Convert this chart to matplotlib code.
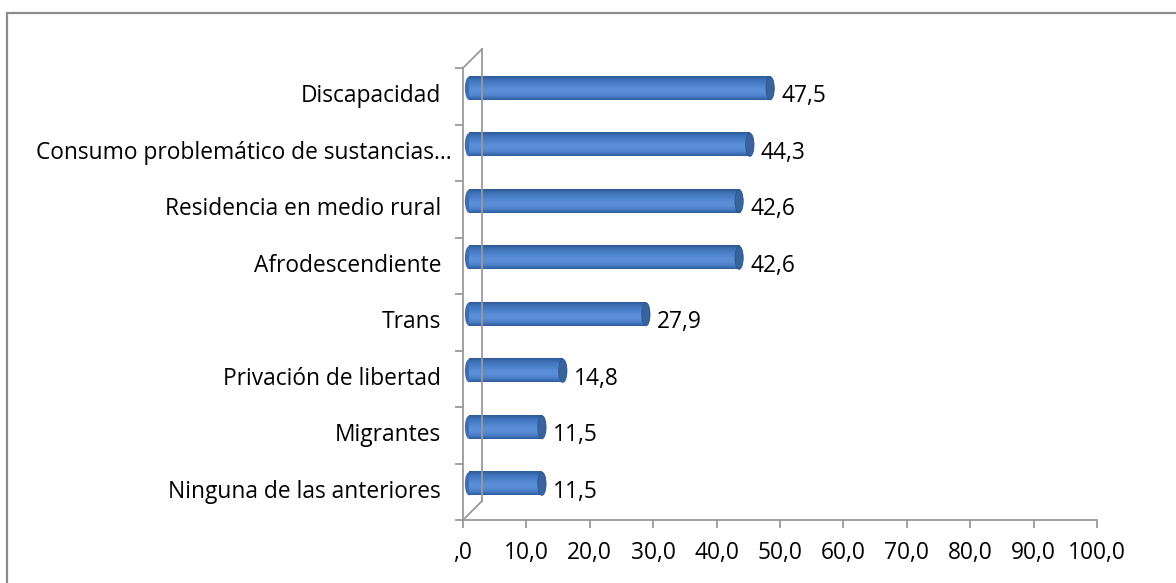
import matplotlib
matplotlib.use("Agg")
import matplotlib.pyplot as plt
import numpy as np
from matplotlib.transforms import ScaledTranslation
from matplotlib.patches import Ellipse, Rectangle
from matplotlib.lines import Line2D
from matplotlib.colors import LinearSegmentedColormap

categories = ["Discapacidad", "Consumo problemático de sustancias...",
              "Residencia en medio rural", "Afrodescendiente", "Trans",
              "Privación de libertad", "Migrantes", "Ninguna de las anteriores"]
values = [47.5, 44.3, 42.6, 42.6, 27.9, 14.8, 11.5, 11.5]
value_labels = ["47,5", "44,3", "42,6", "42,6", "27,9", "14,8", "11,5", "11,5"]
xticks = [0, 10, 20, 30, 40, 50, 60, 70, 80, 90, 100]
xtick_labels = [",0", "10,0", "20,0", "30,0", "40,0", "50,0", "60,0", "70,0", "80,0", "90,0", "100,0"]

plt.rcParams['font.family'] = ['Open Sans', 'DejaVu Sans']
FS = 16.4
W, H = 1176, 583
fig = plt.figure(figsize=(W / 100, H / 100), dpi=100)

# outer chart border
fig.patches.append(Rectangle((7 / W, -0.05), 1.2, (583 - 13) / H + 0.05,
                             transform=fig.transFigure, fill=False,
                             edgecolor="#8c8c8c", linewidth=1.6))

ax = fig.add_axes([463 / W, (583 - 520) / H, 634 / W, 452 / H])
n = len(categories)
ypos = np.arange(n)[::-1]
ax.set_xlim(0, 100)
ax.set_ylim(-0.5, n - 0.5)
for s in ["top", "right"]:
    ax.spines[s].set_visible(False)
axis_col = "#9a9a9a"
for s in ["left", "bottom"]:
    ax.spines[s].set_color(axis_col)
    ax.spines[s].set_linewidth(1.3)

ax.set_xticks(xticks)
ax.set_xticklabels(xtick_labels, fontsize=FS)
ax.set_yticks(np.arange(-0.5, n, 1.0))
ax.set_yticklabels([])
ax.tick_params(axis="x", length=6, width=1.3, color=axis_col, pad=9)
ax.tick_params(axis="y", length=6, width=1.3, color=axis_col)

# category labels
for y, c in zip(ypos, categories):
    gap = 11 if c.endswith("...") else 22
    ax.text(0, y, c, transform=ax.get_yaxis_transform() +
            ScaledTranslation(-gap / 100, 0, fig.dpi_scale_trans),
            ha="right", va="center", fontsize=FS)

# 3D back wall lines
off = ScaledTranslation(19 / 100, 19 / 100, fig.dpi_scale_trans)
ta = ax.transAxes
tb = ax.transAxes + off
for (p0, t0), (p1, t1) in [(((0, 1), ta), ((0, 1), tb)),
                           (((0, 0), ta), ((0, 0), tb))]:
    a = t0.transform(p0); b = t1.transform(p1)
    fig.lines.append(Line2D([a[0] / W, b[0] / W], [a[1] / H, b[1] / H],
                            transform=fig.transFigure, color=axis_col, lw=1.3))
a = tb.transform((0, 1)); b = tb.transform((0, 0))
fig.lines.append(Line2D([a[0] / W, b[0] / W], [a[1] / H, b[1] / H],
                        transform=fig.transFigure, color=axis_col, lw=1.3, zorder=0))

# cylinder bars
bar_off = ScaledTranslation(6 / 100, 8 / 100, fig.dpi_scale_trans)
tbar = ax.transData + bar_off
h = 0.41
cmap = LinearSegmentedColormap.from_list(
    "cyl", ["#2e5d9c", "#4c81ca", "#5b90d9", "#578cd6", "#4a7fc8", "#3f73ba", "#2d5a96"])
grad = np.linspace(0, 1, 64).reshape(-1, 1)
cap_w = 1.3
for y, v, lab in zip(ypos, values, value_labels):
    ax.add_patch(Ellipse((0, y), cap_w, h, transform=tbar,
                         facecolor="#3d6eb1", edgecolor="none", zorder=3))
    ax.imshow(grad, aspect="auto", cmap=cmap, extent=(0, v, y + h / 2, y - h / 2),
              transform=tbar, zorder=4, interpolation="bilinear")
    ax.add_patch(Ellipse((v, y), cap_w, h, transform=tbar,
                         facecolor="#38639d", edgecolor="#2a548a", lw=0.6, zorder=5))
    ax.text(v, y, lab, transform=ax.transData + ScaledTranslation(17 / 100, 0, fig.dpi_scale_trans),
            ha="left", va="center", fontsize=FS)

ax.set_xlim(0, 100)
ax.set_ylim(-0.5, n - 0.5)
fig.savefig("out.png", dpi=100)
